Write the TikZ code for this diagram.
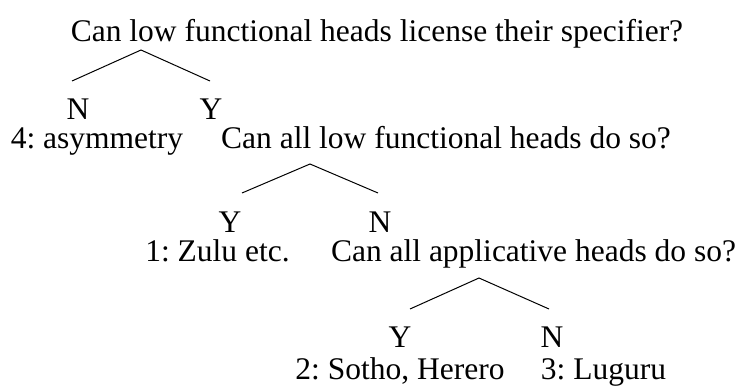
\documentclass[tikz,border=0pt]{standalone}
\usepackage{fontspec}
\setmainfont{Liberation Serif}
\frenchspacing
\begin{document}
\begin{tikzpicture}[x=1pt,y=-1pt,
  lbl/.style={inner sep=0pt,anchor=base,font=\fontsize{31.5}{34}\selectfont\frenchspacing},
  branch/.style={line width=1pt}]
\useasboundingbox (0,0) rectangle (744,388);
% texts
\node[lbl] (q1) at (377,41) {Can low functional heads license their specifier?};
\node[lbl] (n1) at (78,119) {N};
\node[lbl] (y1) at (211,119) {Y};
\node[lbl] (r4) at (97,148) {4: asymmetry};
\node[lbl] (q2) at (446,148) {Can all low functional heads do so?};
\node[lbl] (y2) at (230,232) {Y};
\node[lbl] (n2) at (380,232) {N};
\node[lbl] (r1) at (217.5,261) {1: Zulu etc.};
\node[lbl] (q3) at (533.5,261) {Can all applicative heads do so?};
\node[lbl] (y3) at (400,347) {Y};
\node[lbl] (n3) at (552,347) {N};
\node[lbl] (r2) at (400,379) {2: Sotho, Herero};
\node[lbl] (r3) at (603.5,379) {3: Luguru};
% branch points
\coordinate (a1) at (141,50);
\coordinate (l1) at (72,81);
\coordinate (m1) at (210,81);
\coordinate (a2) at (310,164);
\coordinate (l2) at (242,193);
\coordinate (m2) at (378,193);
\coordinate (a3) at (479,278);
\coordinate (l3) at (410,309);
\coordinate (m3) at (549,309);
\draw[branch] (l1) -- (a1) -- (m1);
\draw[branch] (l2) -- (a2) -- (m2);
\draw[branch] (l3) -- (a3) -- (m3);
\end{tikzpicture}
\end{document}
